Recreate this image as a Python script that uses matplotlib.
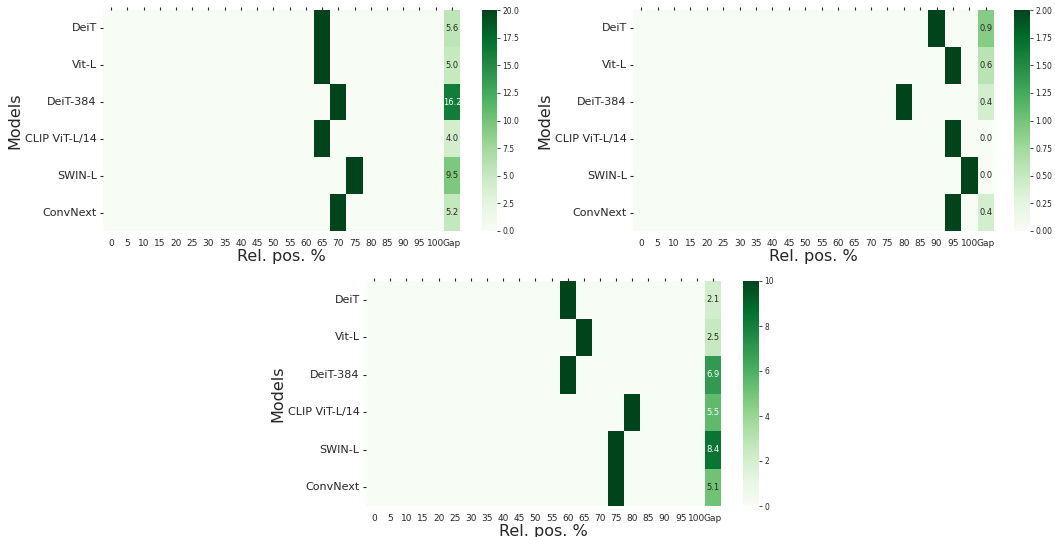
import numpy as np
import pandas as pd
import matplotlib
matplotlib.use("Agg")
import matplotlib.pyplot as plt
import seaborn as sns

models = ["DeiT", "Vit-L", "DeiT-384", "CLIP ViT-L/14", "SWIN-L", "ConvNext"]
rel_pos = ["0", "5", "10", "15", "20", "25", "30", "35", "40", "45", "50",
           "55", "60", "65", "70", "75", "80", "85", "90", "95", "100"]

# panel a (top left)
peak_a = ["65", "65", "70", "65", "75", "70"]
peakval_a = [20, 20, 20, 20, 20, 20]
gap_a = [5.6, 5.0, 16.2, 4.0, 9.5, 5.2]
vmax_a = 20

# panel b (top right)
peak_b = ["90", "95", "80", "95", "100", "95"]
peakval_b = [2.0, 2.0, 2.0, 2.0, 2.0, 2.0]
gap_b = [0.9, 0.6, 0.4, 0.0, 0.0, 0.4]
vmax_b = 2.0

# panel c (bottom)
peak_c = ["60", "65", "60", "80", "75", "75"]
peakval_c = [10, 10, 10, 10, 10, 10]
gap_c = [2.1, 2.5, 6.9, 5.5, 8.4, 5.1]
vmax_c = 10

plt.rcParams["text.color"] = ".15"
plt.rcParams["axes.labelcolor"] = ".15"
plt.rcParams["xtick.color"] = ".15"
plt.rcParams["ytick.color"] = ".15"

W, H = 1055, 537
fig = plt.figure(figsize=(W / 100, H / 100), dpi=100)


def box(l, r, t, b):
    return [l / W, (H - b) / H, (r - l) / W, (b - t) / H]


def panel(ax_box, cb_box, peaks, peakvals, gaps, vmax):
    cols = rel_pos + ["Gap"]
    df = pd.DataFrame(0.0, index=models, columns=cols)
    for m, p, v, g in zip(models, peaks, peakvals, gaps):
        df.loc[m, p] = v
        df.loc[m, "Gap"] = g
    annot = np.full(df.shape, "", dtype=object)
    annot[:, -1] = ["%.1f" % g for g in gaps]
    ax = fig.add_axes(box(*ax_box))
    cax = fig.add_axes(box(*cb_box))
    sns.heatmap(df, ax=ax, cbar_ax=cax, cmap="Greens", vmin=0, vmax=vmax,
                annot=annot, fmt="", annot_kws={"fontsize": 6})
    ax.set_yticklabels(models, rotation=0, fontsize=8)
    ax.set_xticklabels(cols, rotation=0, fontsize=6.5)
    ax.tick_params(axis="y", length=2.5, width=0.8, pad=2)
    ax.tick_params(axis="x", top=True, bottom=False, labelbottom=True,
                   labeltop=False, length=2.5, width=0.8, pad=3)
    ax.set_xlabel("Rel. pos. %", fontsize=11.5, labelpad=1)
    ax.set_ylabel("Models", fontsize=11.5, labelpad=2)
    cax.tick_params(labelsize=5.5, length=2.5, width=0.6, pad=1.5)
    return ax


panel((103, 460, 10, 231), (482, 497, 10, 231), peak_a, peakval_a, gap_a, vmax_a)
panel((633, 994, 10, 231), (1014, 1030, 10, 231), peak_b, peakval_b, gap_b, vmax_b)
panel((366, 721, 281, 506), (743, 759, 281, 506), peak_c, peakval_c, gap_c, vmax_c)

fig.savefig("out.png", dpi=100)
